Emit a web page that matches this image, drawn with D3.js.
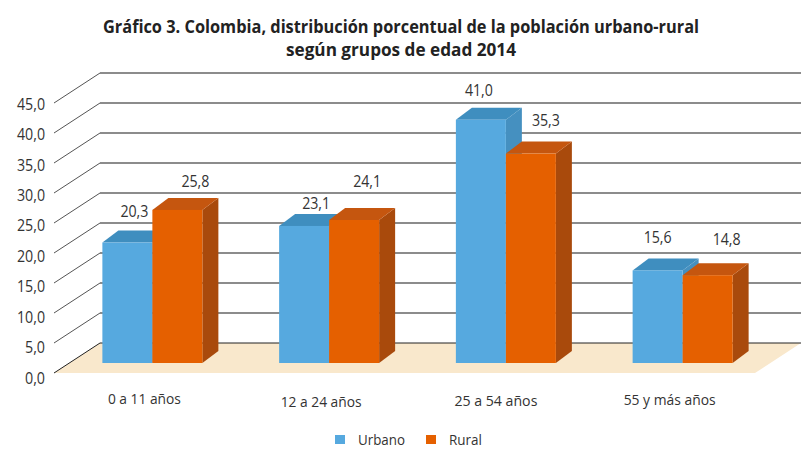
<!DOCTYPE html>
<html lang="es">
<head>
    <meta charset="UTF-8">
    <title>Gráfico 3</title>
    <script src="https://d3js.org/d3.v7.min.js"></script>
    <style>
        html, body { margin: 0; padding: 0; background: #fff; }
        svg { display: block; }
        text { font-family: "Open Sans", "Noto Sans", sans-serif; fill: #333; }
    </style>
</head>
<body>
    <svg width="801" height="457"></svg>
    <script>
        const categories = ["0 a 11 años", "12 a 24 años", "25 a 54 años", "55 y más años"];
        const seriesNames = ["Urbano", "Rural"];
        const urbano = [20.3, 23.1, 41.0, 15.6];
        const rural = [25.8, 24.1, 35.3, 14.8];
        const ticks = [0, 5, 10, 15, 20, 25, 30, 35, 40, 45];
        const titleLines = [
            "Gráfico 3. Colombia, distribución porcentual de la población urbano-rural",
            "según grupos de edad 2014"
        ];

        // hand placement of the labels, they don't sit centered in the original
        const catNudge = [[-8, 399], [-8, 402], [-10, 401], [-13, 400]];
        const catWidth = [73, 81, 83, 92];
        const urbanoNudge = [[7, -26], [12, -17], [-2, -24], [0, -27]];
        const ruralNudge = [[18, -23], [13, -33], [15, -28], [19, -30]];

        const fmt = v => d3.format(".1f")(v).replace(".", ",");
        const colors = {
            Urbano: {front: "#56a9df", top: "#3f8ebf", side: "#4590c0"},
            Rural: {front: "#e56000", top: "#c5560f", side: "#a94a0c"}
        };

        const svg = d3.select("svg");

        // axis scale on the front edge, same thing shifted back for the wall
        const depth = {x: 46, y: -30};
        const xFrontLeft = 54;
        const xFrontRight = 755;
        const y = d3.scaleLinear().domain([0, 45]).range([373, 103]);
        // tick labels drift a little from the lines in the original
        const yLabel = d3.scaleLinear().domain([0, 45]).range([378, 104]);

        // bars stand a bit in front of the wall on the floor
        const yBar = d3.scaleLinear().domain([0, 45]).range([363, 96]);
        const x0 = d3.scaleBand().domain(categories).range([64, 771]);
        const x1 = d3.scaleBand().domain(seriesNames).range([0, 100]);
        const barDepth = {x: 16, y: -12};
        const groupLeft = c => x0(c) + (x0.bandwidth() - 100) / 2;

        // title, squeezed since there is no condensed font here
        svg.selectAll(".title")
            .data(titleLines)
            .enter().append("text")
            .attr("class", "title")
            .attr("x", 401)
            .attr("y", (d, i) => 33 + i * 23)
            .attr("text-anchor", "middle")
            .attr("font-size", 18)
            .attr("font-weight", 700)
            .attr("textLength", (d, i) => i === 0 ? 596 : 230)
            .attr("lengthAdjust", "spacingAndGlyphs")
            .style("fill", "#222")
            .text(d => d);

        // floor
        svg.append("polygon")
            .attr("fill", "#f9e8cc")
            .attr("points", [
                [xFrontLeft, y(0)],
                [xFrontRight, y(0)],
                [xFrontRight + depth.x, y(0) + depth.y],
                [xFrontLeft + depth.x, y(0) + depth.y]
            ].join(" "));

        // wall grid
        const grid = svg.append("g");
        grid.selectAll(".diag")
            .data(ticks)
            .enter().append("line")
            .attr("x1", xFrontLeft)
            .attr("y1", d => y(d))
            .attr("x2", xFrontLeft + depth.x)
            .attr("y2", d => y(d) + depth.y)
            .attr("stroke", d => d === 0 ? "#222" : "#555")
            .attr("stroke-width", 1);
        grid.selectAll(".wall")
            .data(ticks)
            .enter().append("line")
            .attr("x1", xFrontLeft + depth.x)
            .attr("x2", 801)
            .attr("y1", d => y(d) + depth.y)
            .attr("y2", d => y(d) + depth.y)
            .attr("stroke", d => d === 0 ? "#222" : "#666")
            .attr("stroke-width", d => d === 0 ? 1 : 1.3);

        // y axis labels
        const axis = svg.append("g")
            .attr("transform", "translate(45,0)")
            .call(d3.axisLeft(yLabel).tickValues(ticks).tickSize(0).tickPadding(0).tickFormat(fmt));
        axis.select(".domain").remove();
        axis.selectAll("text")
            .attr("font-size", 16)
            .attr("textLength", d => d < 10 ? 20 : 28)
            .attr("lengthAdjust", "spacingAndGlyphs")
            .style("font-family", '"Open Sans", sans-serif');

        // bars, blue first so the orange one covers its side
        const seriesData = [urbano, rural];
        seriesNames.forEach((name, s) => {
            const g = svg.append("g");
            const c = colors[name];
            const w = x1.bandwidth();
            const rows = categories.map((cat, i) => ({cat, v: seriesData[s][i]}));
            const left = d => groupLeft(d.cat) + x1(name);
            g.selectAll(".side")
                .data(rows)
                .enter().append("polygon")
                .attr("fill", c.side)
                .attr("points", d => [
                    [left(d) + w, yBar(d.v)],
                    [left(d) + w + barDepth.x, yBar(d.v) + barDepth.y],
                    [left(d) + w + barDepth.x, yBar(0) + barDepth.y],
                    [left(d) + w, yBar(0)]
                ].join(" "));
            g.selectAll(".top")
                .data(rows)
                .enter().append("polygon")
                .attr("fill", c.top)
                .attr("points", d => [
                    [left(d), yBar(d.v)],
                    [left(d) + barDepth.x, yBar(d.v) + barDepth.y],
                    [left(d) + w + barDepth.x, yBar(d.v) + barDepth.y],
                    [left(d) + w, yBar(d.v)]
                ].join(" "));
            g.selectAll(".front")
                .data(rows)
                .enter().append("rect")
                .attr("fill", c.front)
                .attr("x", left)
                .attr("y", d => yBar(d.v))
                .attr("width", w)
                .attr("height", d => yBar(0) - yBar(d.v));
        });

        // value labels
        seriesNames.forEach((name, s) => {
            const nudge = s === 0 ? urbanoNudge : ruralNudge;
            svg.append("g").selectAll("text")
                .data(seriesData[s])
                .enter().append("text")
                .attr("x", (d, i) => groupLeft(categories[i]) + x1(name) + x1.bandwidth() / 2 + nudge[i][0])
                .attr("y", (d, i) => yBar(d) + nudge[i][1])
                .attr("text-anchor", "middle")
                .attr("font-size", 16)
                .attr("textLength", 28)
                .attr("lengthAdjust", "spacingAndGlyphs")
                .text(fmt);
        });

        // category labels
        svg.append("g").selectAll("text")
            .data(categories)
            .enter().append("text")
            .attr("x", (d, i) => x0(d) + x0.bandwidth() / 2 + catNudge[i][0])
            .attr("y", (d, i) => catNudge[i][1] + 5)
            .attr("text-anchor", "middle")
            .attr("font-size", 15)
            .attr("textLength", (d, i) => catWidth[i])
            .attr("lengthAdjust", "spacingAndGlyphs")
            .text(d => d);

        // legend
        const legendX = [335, 426];
        const legendW = [47, 33];
        const legend = svg.append("g").selectAll("g")
            .data(seriesNames)
            .enter().append("g")
            .attr("transform", (d, i) => `translate(${legendX[i]},435)`);
        legend.append("rect")
            .attr("width", 10)
            .attr("height", 9)
            .attr("fill", d => colors[d].front);
        legend.append("text")
            .attr("x", 23)
            .attr("y", 10)
            .attr("font-size", 15)
            .attr("textLength", (d, i) => legendW[i])
            .attr("lengthAdjust", "spacingAndGlyphs")
            .text(d => d);
    </script>
</body>
</html>
